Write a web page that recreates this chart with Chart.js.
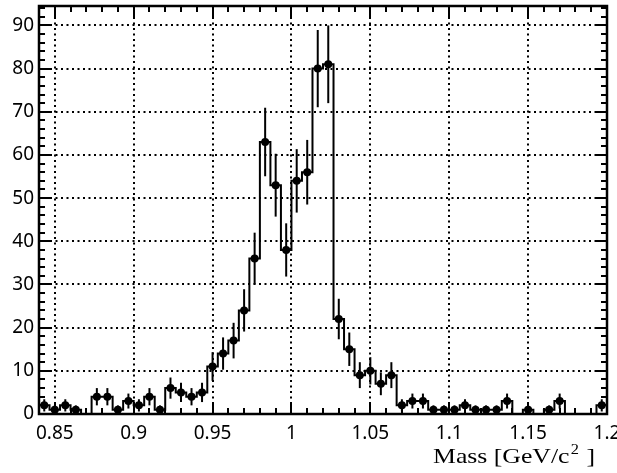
<!DOCTYPE html>
<html>
<head>
<meta charset="utf-8">
<script src="https://cdn.jsdelivr.net/npm/chart.js@4.4.0/dist/chart.umd.min.js"></script>
<style>
  html, body { margin: 0; padding: 0; background: #fff; }
  #cadre { width: 617px; height: 473px; }
</style>
</head>
<body>
<div id="cadre"><canvas id="histoMasse" width="617" height="473"></canvas></div>
<script>
// ============================================================================
// Données du spectre de masse
// ============================================================================
const MASSE_MIN = 0.84;
const MASSE_MAX = 1.2;

// contenu des 54 bins, de gauche à droite
const comptages = [
    2, 1, 2, 1, 0, 4, 4, 1, 3, 2,
    4, 1, 6, 5, 4, 5, 11, 14, 17, 24,
    36, 63, 53, 38, 54, 56, 80, 81, 22, 15,
    9, 10, 7, 9, 2, 3, 3, 1, 1, 1,
    2, 1, 1, 1, 3, 0, 1, 0, 1, 3,
    0, 0, 0, 2
];

const ticksX = [0.85, 0.9, 0.95, 1, 1.05, 1.1, 1.15, 1.2];
const ticksY = [0, 10, 20, 30, 40, 50, 60, 70, 80, 90];
const Y_MAX = 94.5;

const largeurBin = (MASSE_MAX - MASSE_MIN) / comptages.length;
const erreurs = comptages.map(n => Math.sqrt(n)); // erreur poissonienne

// contour de l'histogramme : un point par bord gauche + le bord final
const pointsContour = comptages.map((n, i) => ({ x: MASSE_MIN + i * largeurBin, y: n }));
pointsContour.push({ x: MASSE_MAX, y: comptages[comptages.length - 1] });

// marqueurs au centre des bins non vides
const pointsMarqueurs = [];
comptages.forEach((n, i) => {
    if (n > 0) pointsMarqueurs.push({ x: MASSE_MIN + (i + 0.5) * largeurBin, y: n, e: erreurs[i] });
});

// ============================================================================
// Plugins : barres d'erreur, cadre + graduations façon ROOT, titre d'axe
// ============================================================================
const barresErreur = {
    id: 'barresErreur',
    afterDatasetsDraw(chart) {
        const { ctx, chartArea, scales: { x, y } } = chart;
        ctx.save();
        ctx.beginPath();
        ctx.rect(chartArea.left, chartArea.top, chartArea.right - chartArea.left, chartArea.bottom - chartArea.top);
        ctx.clip();
        ctx.strokeStyle = '#000';
        ctx.lineWidth = 2;
        pointsMarqueurs.forEach(p => {
            const px = x.getPixelForValue(p.x);
            ctx.beginPath();
            ctx.moveTo(px, y.getPixelForValue(p.y - p.e));
            ctx.lineTo(px, y.getPixelForValue(p.y + p.e));
            ctx.stroke();
        });
        ctx.restore();
    }
};

const cadreGraduations = {
    id: 'cadreGraduations',
    afterDraw(chart) {
        const { ctx, chartArea: a, scales: { x, y } } = chart;
        ctx.save();
        ctx.strokeStyle = '#000';
        ctx.lineWidth = 2;
        ctx.beginPath();

        // graduations en x (bas et haut), mineures tous les 0.01
        for (let k = 85; k < 120; k++) {
            const px = Math.round(x.getPixelForValue(k / 100));
            const long = (k % 5 === 0) ? 11 : 6;
            ctx.moveTo(px, a.bottom); ctx.lineTo(px, a.bottom - long);
            ctx.moveTo(px, a.top); ctx.lineTo(px, a.top + long);
        }
        // graduations en y (gauche et droite), mineures tous les 2
        for (let v = 0; v <= 94; v += 2) {
            const py = Math.round(y.getPixelForValue(v));
            const long = (v % 10 === 0) ? 12 : 6;
            ctx.moveTo(a.left, py); ctx.lineTo(a.left + long, py);
            ctx.moveTo(a.right, py); ctx.lineTo(a.right - long, py);
        }
        ctx.stroke();

        ctx.lineWidth = 2.5;
        ctx.strokeRect(a.left, a.top, a.right - a.left, a.bottom - a.top);

        // titre de l'axe x (police serif, légèrement étirée)
        const partie1 = 'Mass [GeV/c';
        const partie2 = '2';
        const partie3 = ' ]';
        ctx.fillStyle = '#000';
        ctx.textBaseline = 'alphabetic';
        ctx.font = '22px "Liberation Serif", "DejaVu Serif", serif';
        const w1 = ctx.measureText(partie1).width;
        const w3 = ctx.measureText(partie3).width;
        ctx.font = '14px "Liberation Serif", "DejaVu Serif", serif';
        const w2 = ctx.measureText(partie2).width + 2;
        const total = w1 + w2 + w3;
        const etirement = 162 / total;
        ctx.translate(595 - 162, 463);
        ctx.scale(etirement, 1);
        ctx.font = '22px "Liberation Serif", "DejaVu Serif", serif';
        ctx.fillText(partie1, 0, 0);
        ctx.font = '14px "Liberation Serif", "DejaVu Serif", serif';
        ctx.fillText(partie2, w1 + 1, -9);
        ctx.font = '22px "Liberation Serif", "DejaVu Serif", serif';
        ctx.fillText(partie3, w1 + w2, 0);
        ctx.restore();
    }
};

// ============================================================================
// Graphique
// ============================================================================
Chart.defaults.font.family = '"Noto Sans", "Open Sans", sans-serif';
Chart.defaults.color = '#000';

new Chart(document.getElementById('histoMasse'), {
    type: 'scatter',
    data: {
        datasets: [
            {
                type: 'line',
                data: pointsContour,
                stepped: 'before',
                borderColor: '#000',
                borderWidth: 2,
                pointRadius: 0,
                fill: false,
                order: 2
            },
            {
                data: pointsMarqueurs,
                pointRadius: 4,
                pointHoverRadius: 4,
                backgroundColor: '#000',
                borderColor: '#000',
                borderWidth: 0,
                order: 1
            }
        ]
    },
    options: {
        responsive: false,
        devicePixelRatio: 1,
        animation: false,
        layout: { padding: { top: 6, right: 10, left: 0, bottom: 0 } },
        plugins: {
            legend: { display: false },
            tooltip: { enabled: false }
        },
        scales: {
            x: {
                type: 'linear',
                min: MASSE_MIN,
                max: MASSE_MAX,
                afterBuildTicks: axe => { axe.ticks = ticksX.map(v => ({ value: v })); },
                afterFit: axe => {
                    axe.height = 59;
                    // le label "1.2" déborde du canvas comme sur l'original
                    axe.paddingLeft = 0;
                    axe.paddingRight = 0;
                },
                ticks: {
                    padding: 8,
                    maxRotation: 0,
                    autoSkip: false,
                    font: { size: 19 },
                    callback: v => String(+v.toFixed(2))
                },
                grid: { color: '#000', lineWidth: 2, drawTicks: false },
                border: { display: false, dash: [2, 3.5] }
            },
            y: {
                min: 0,
                max: Y_MAX,
                afterBuildTicks: axe => { axe.ticks = ticksY.map(v => ({ value: v })); },
                afterFit: axe => {
                    axe.width = 39;
                    axe.paddingTop = 0;
                    axe.paddingBottom = 0;
                },
                ticks: {
                    padding: 5,
                    font: { size: 19 },
                    callback: v => String(v)
                },
                grid: { color: '#000', lineWidth: 2, drawTicks: false },
                border: { display: false, dash: [2, 3.5] }
            }
        }
    },
    plugins: [barresErreur, cadreGraduations]
});
</script>
</body>
</html>
